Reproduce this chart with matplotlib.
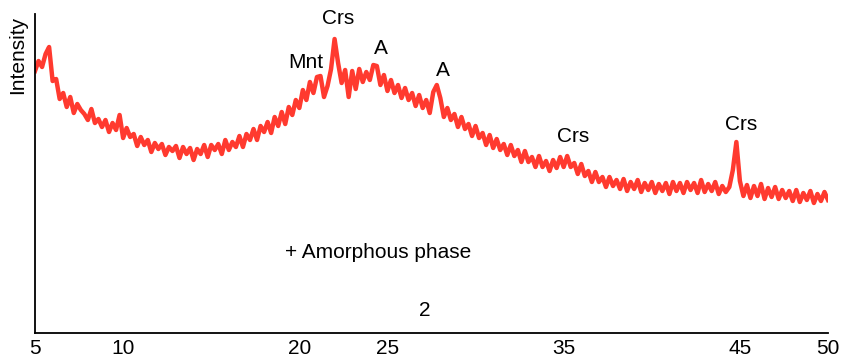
import numpy as np
import matplotlib
matplotlib.use('Agg')
import matplotlib.pyplot as plt

plt.rcParams['font.family'] = ['Liberation Sans', 'DejaVu Sans']

# XRD pattern, intensity every 0.2 deg (2 theta), 5 to 50
intensity = [
    262, 272, 266, 279, 286, 252, 254, 234, 240, 226,  # 5.0 - 6.8
    236, 220, 229, 223, 219, 213, 224, 210, 214, 206,  # 7.0 - 8.8
    213, 201, 210, 203, 218, 195, 205, 196, 199, 187,  # 9.0 - 10.8
    196, 188, 193, 181, 190, 184, 189, 178, 186, 182,  # 11.0 - 12.8
    187, 175, 186, 179, 185, 173, 184, 179, 188, 176,  # 13.0 - 14.8
    188, 183, 189, 179, 193, 183, 191, 186, 197, 186,  # 15.0 - 16.8
    199, 193, 204, 193, 207, 201, 211, 200, 216, 207,  # 17.0 - 18.8
    221, 209, 226, 218, 233, 225, 243, 233, 251, 240,  # 19.0 - 20.8
    256, 257, 236, 247, 264, 294, 270, 250, 263, 236,  # 21.0 - 22.8
    262, 244, 264, 251, 261, 253, 268, 267, 248, 258,  # 23.0 - 24.8
    242, 253, 240, 248, 235, 245, 233, 240, 227, 238,  # 25.0 - 26.8
    225, 233, 220, 241, 248, 235, 216, 225, 213, 219,  # 27.0 - 28.8
    206, 216, 204, 209, 197, 207, 195, 200, 188, 198,  # 29.0 - 30.8
    185, 194, 183, 189, 178, 188, 177, 183, 171, 182,  # 31.0 - 32.8
    171, 176, 166, 177, 166, 172, 162, 173, 165, 176,  # 33.0 - 34.8
    166, 177, 166, 170, 159, 169, 157, 162, 151, 161,  # 35.0 - 36.8
    151, 156, 146, 156, 147, 153, 144, 154, 142, 151,  # 37.0 - 38.8
    144, 153, 141, 150, 143, 151, 140, 149, 142, 150,  # 39.0 - 40.8
    139, 151, 142, 150, 140, 151, 143, 150, 140, 153,  # 41.0 - 42.8
    141, 149, 142, 151, 139, 147, 141, 146, 163, 191,  # 43.0 - 44.8
    152, 137, 148, 135, 147, 137, 149, 134, 145, 136,  # 45.0 - 46.8
    146, 134, 143, 135, 142, 132, 143, 131, 140, 133,  # 47.0 - 48.8
    142, 130, 139, 132, 141, 133,                      # 49.0 - 50.0
]
two_theta = np.linspace(5, 50, len(intensity))  # 0.2 deg sampling grid

tick_vals = [5, 10, 20, 25, 35, 45, 50]

# phase labels: (text, 2theta, intensity)
labels = [
    ('Mnt', 20.38, 271),
    ('Crs', 22.2, 315),
    ('A', 24.64, 285),
    ('A', 28.15, 263),
    ('Crs', 35.53, 197),
    ('Crs', 45.07, 208),
]

fig = plt.figure(figsize=(8.42, 3.58), dpi=100)
ax = fig.add_axes([35/842, 25/358, 793/842, 319/358])

ax.plot(two_theta, intensity, color='#ff3a2f', lw=3.2, solid_joinstyle='round')

for txt, xx, yy in labels:
    ax.text(xx, yy, txt, ha='center', va='center', fontsize=15)
ax.text(24.47, 81, '+ Amorphous phase', ha='center', va='center', fontsize=15)
ax.text(27.13, 22, '2', ha='center', va='center', fontsize=15)

ax.set_xlim(5, 50)
ax.set_ylim(0, 319)
ax.set_xticks(tick_vals)
ax.set_yticks([])
ax.tick_params(axis='x', length=0, pad=4, labelsize=15)
ax.spines['top'].set_visible(False)
ax.spines['right'].set_visible(False)
ax.spines['left'].set_linewidth(1.3)
ax.spines['bottom'].set_linewidth(1.3)

fig.text(18/842, 1 - 55/358, 'Intensity', rotation=90, ha='center', va='center',
         fontsize=15)

plt.savefig('out.png', dpi=100)
